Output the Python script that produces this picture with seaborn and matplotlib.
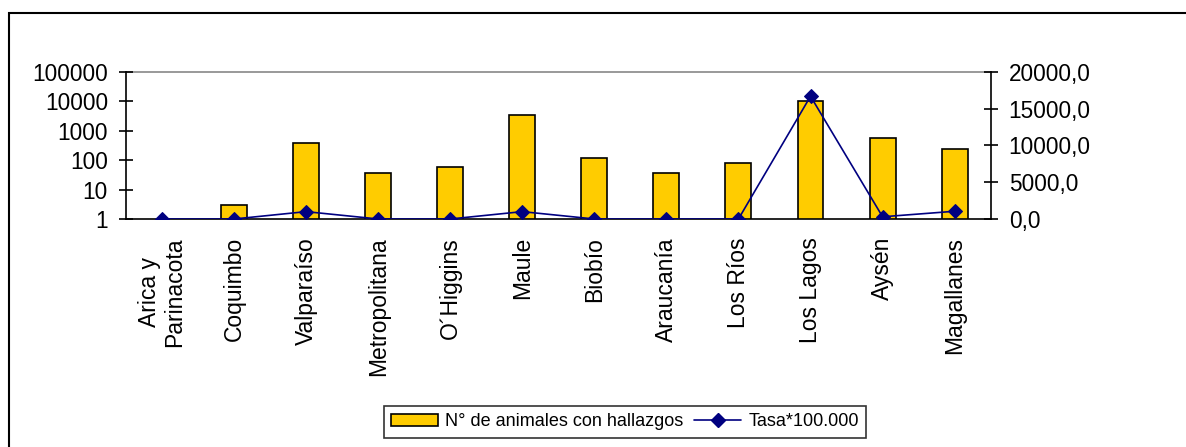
import matplotlib

matplotlib.use("Agg")
import matplotlib.pyplot as plt
import numpy as np
import seaborn as sns
from matplotlib.lines import Line2D
from matplotlib.patches import Patch, Rectangle
from matplotlib.ticker import FixedLocator, FuncFormatter

# Chart data
regions = [
    "Arica y\nParinacota",
    "Coquimbo",
    "Valparaíso",
    "Metropolitana",
    "O´Higgins",
    "Maule",
    "Biobío",
    "Araucanía",
    "Los Ríos",
    "Los Lagos",
    "Aysén",
    "Magallanes",
]
animals = [0, 3, 370, 38, 60, 3500, 120, 38, 80, 10500, 560, 245]
tasa = [0, 0, 1000, 0, 0, 1000, 0, 0, 0, 16700, 300, 1050]
left_ticks = [1, 10, 100, 1000, 10000, 100000]
right_ticks = [0, 5000, 10000, 15000, 20000]

BAR_COLOR = "#FFCC00"
LINE_COLOR = "#000080"

sns.set_theme(style="white")
plt.rcParams["font.family"] = ["Liberation Sans", "DejaVu Sans"]
plt.rcParams["text.color"] = "black"
plt.rcParams["xtick.color"] = "black"
plt.rcParams["ytick.color"] = "black"
plt.rcParams["xtick.labelcolor"] = "black"
plt.rcParams["ytick.labelcolor"] = "black"

fig = plt.figure(figsize=(11.86, 4.47), dpi=100)
ax = fig.add_axes([0.1062, 0.5101, 0.7291, 0.3288])

# Outer chart frame (only left/top edges visible in reference)
fig.patches.append(
    Rectangle(
        (9 / 1186, -0.1),
        1.2,
        (447 - 13) / 447 + 0.1,
        transform=fig.transFigure,
        fill=False,
        edgecolor="black",
        linewidth=1.5,
    )
)

ax.set_yscale("log")
sns.barplot(
    x=list(range(len(regions))),
    y=animals,
    ax=ax,
    color=BAR_COLOR,
    saturation=1,
    width=0.36,
    edgecolor="black",
    linewidth=1.2,
)
ax.set_ylim(1, 100000)
ax.set_xlim(-0.5, len(regions) - 0.5)
ax.yaxis.set_major_locator(FixedLocator(left_ticks))
ax.yaxis.set_minor_locator(FixedLocator([]))
ax.yaxis.set_major_formatter(FuncFormatter(lambda v, p: f"{int(v)}"))

ax.set_xticks(range(len(regions)))
ax.set_xticklabels(regions, rotation=90, va="top", ha="center", linespacing=1.1)
ax.set_xticks(np.arange(-0.5, len(regions), 1), minor=True)
ax.tick_params(axis="x", which="major", length=0, pad=13, labelsize=16.5)
ax.tick_params(
    axis="x", which="minor", length=10, direction="inout", width=1.2, color="black"
)
ax.tick_params(
    axis="y",
    which="major",
    length=10,
    direction="inout",
    width=1.2,
    color="black",
    labelsize=16.3,
    pad=8,
    left=True,
)

for side in ["top", "right"]:
    ax.spines[side].set_visible(False)
ax.spines["left"].set_color("black")
ax.spines["left"].set_linewidth(1.2)
ax.spines["bottom"].set_color("black")
ax.spines["bottom"].set_linewidth(1.2)
ax.axhline(100000, color="#888888", linewidth=1.2, zorder=0, clip_on=False)
ax.set_xlabel("")
ax.set_ylabel("")

ax2 = ax.twinx()
sns.lineplot(
    x=list(range(len(regions))),
    y=tasa,
    ax=ax2,
    color=LINE_COLOR,
    marker="D",
    markersize=7,
    markeredgecolor=LINE_COLOR,
    linewidth=1.2,
)
ax2.set_ylim(0, 20000)
ax2.set_xlim(-0.5, len(regions) - 0.5)
ax2.yaxis.set_major_locator(FixedLocator(right_ticks))
ax2.yaxis.set_major_formatter(FuncFormatter(lambda v, p: f"{v:.1f}".replace(".", ",")))
ax2.tick_params(
    axis="y",
    which="major",
    length=10,
    direction="inout",
    width=1.2,
    color="black",
    labelsize=16.3,
    pad=8,
    right=True,
)
for side in ["top", "left", "bottom"]:
    ax2.spines[side].set_visible(False)
ax2.spines["right"].set_color("black")
ax2.spines["right"].set_linewidth(1.2)
ax2.set_ylabel("")
ax2.grid(False)
ax.grid(False)

handles = [
    Patch(facecolor=BAR_COLOR, edgecolor="black", linewidth=1.2),
    Line2D([], [], color=LINE_COLOR, marker="D", markersize=7, linewidth=1.2),
]
leg = fig.legend(
    handles,
    ["N° de animales con hallazgos", "Tasa*100.000"],
    loc="center",
    bbox_to_anchor=(0.527, 0.056),
    ncol=2,
    frameon=True,
    fancybox=False,
    edgecolor="black",
    fontsize=13,
    handlelength=2.6,
    handletextpad=0.4,
    columnspacing=0.6,
    borderpad=0.4,
)
leg.get_frame().set_linewidth(1.2)
for txt in leg.get_texts():
    txt.set_color("black")

fig.savefig("out.png", dpi=100, facecolor="white")
